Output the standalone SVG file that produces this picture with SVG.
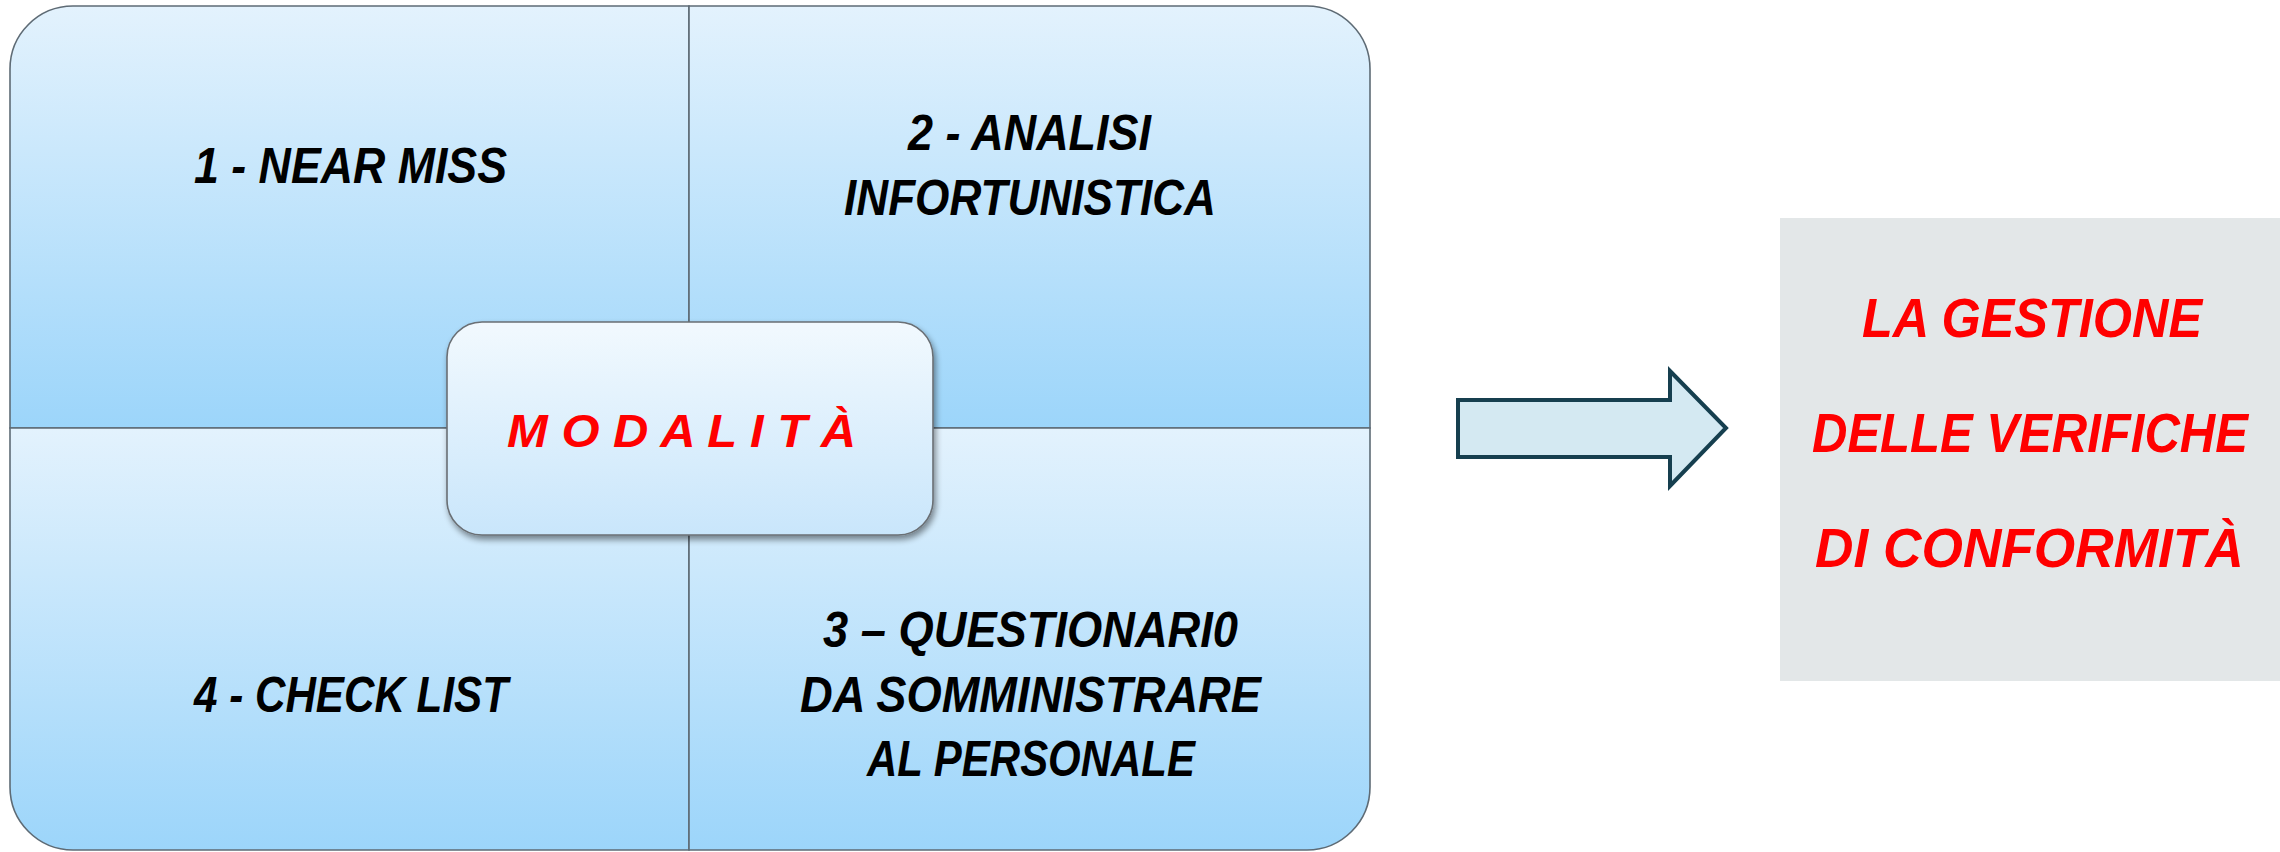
<svg xmlns="http://www.w3.org/2000/svg" width="2280" height="852" viewBox="0 0 2280 852">
  <defs>
    <linearGradient id="cellGrad" x1="0" y1="0" x2="0" y2="1">
      <stop offset="0" stop-color="#e3f2fd"/>
      <stop offset="1" stop-color="#9cd5fa"/>
    </linearGradient>
    <linearGradient id="centerGrad" x1="0" y1="0" x2="0" y2="1">
      <stop offset="0" stop-color="#f2f9fe"/>
      <stop offset="1" stop-color="#c9e6fb"/>
    </linearGradient>
    <filter id="shadow" x="-10%" y="-10%" width="125%" height="130%">
      <feGaussianBlur in="SourceAlpha" stdDeviation="3"/>
      <feOffset dx="2" dy="4" result="b"/>
      <feComponentTransfer><feFuncA type="linear" slope="0.45"/></feComponentTransfer>
      <feMerge><feMergeNode/><feMergeNode in="SourceGraphic"/></feMerge>
    </filter>
  </defs>
  <style>
    .cell { fill: url(#cellGrad); stroke: #5e6b75; stroke-width: 1.6; }
    .center { fill: url(#centerGrad); stroke: #6a6f74; stroke-width: 1.6; }
    .lbl { font-family: "Liberation Sans", Arial, sans-serif; font-weight: bold; font-style: italic; fill: #000000; font-size: 50px; }
    .red { font-family: "Liberation Sans", Arial, sans-serif; font-weight: bold; font-style: italic; fill: #ff0000; }
    .arrow { fill: #d4e9f2; stroke: #163f4f; stroke-width: 4; stroke-linejoin: miter; }
  </style>
  <rect width="2280" height="852" fill="#ffffff"/>

  <g id="cell-near-miss">
    <path class="cell" d="M10,428 L10,69 A63,63 0 0 1 73,6 L689,6 L689,428 Z"/>
    <text class="lbl" x="194" y="183" textLength="313" lengthAdjust="spacingAndGlyphs">1 - NEAR MISS</text>
  </g>
  <g id="cell-analisi">
    <path class="cell" d="M689,6 L1307,6 A63,63 0 0 1 1370,69 L1370,428 L689,428 Z"/>
    <text class="lbl" x="908" y="150" textLength="243" lengthAdjust="spacingAndGlyphs">2 - ANALISI</text>
    <text class="lbl" x="844" y="215" textLength="372" lengthAdjust="spacingAndGlyphs">INFORTUNISTICA</text>
  </g>
  <g id="cell-check-list">
    <path class="cell" d="M10,428 L689,428 L689,850 L73,850 A63,63 0 0 1 10,787 Z"/>
    <text class="lbl" x="194" y="712" textLength="314" lengthAdjust="spacingAndGlyphs">4 - CHECK LIST</text>
  </g>
  <g id="cell-questionario">
    <path class="cell" d="M689,428 L1370,428 L1370,787 A63,63 0 0 1 1307,850 L689,850 Z"/>
    <text class="lbl" x="823" y="647" textLength="415" lengthAdjust="spacingAndGlyphs">3 – QUESTIONARI0</text>
    <text class="lbl" x="800" y="712" textLength="461" lengthAdjust="spacingAndGlyphs">DA SOMMINISTRARE</text>
    <text class="lbl" x="867" y="776" textLength="328" lengthAdjust="spacingAndGlyphs">AL PERSONALE</text>
  </g>
  <g id="center-modalita">
    <rect class="center" x="447" y="322" width="486" height="213" rx="35" ry="35" filter="url(#shadow)"/>
    <text class="red" x="507" y="447" font-size="47" textLength="349" lengthAdjust="spacingAndGlyphs">M O D A L I T À</text>
  </g>

  <g id="connectors">
    <polygon class="arrow" points="1458,400 1670,400 1670,371 1726,428 1670,486 1670,457 1458,457"/>
  </g>

  <g id="result-box">
    <rect x="1780" y="218" width="500" height="463" fill="#e3e7e8"/>
    <text class="red" font-size="56" transform="translate(1862,337) scale(0.901,1)">LA GESTIONE</text>
    <text class="red" font-size="56" transform="translate(1812,452) scale(0.876,1)">DELLE VERIFICHE</text>
    <text class="red" font-size="56" transform="translate(1815,567) scale(0.951,1)">DI CONFORMITÀ</text>
  </g>
</svg>
